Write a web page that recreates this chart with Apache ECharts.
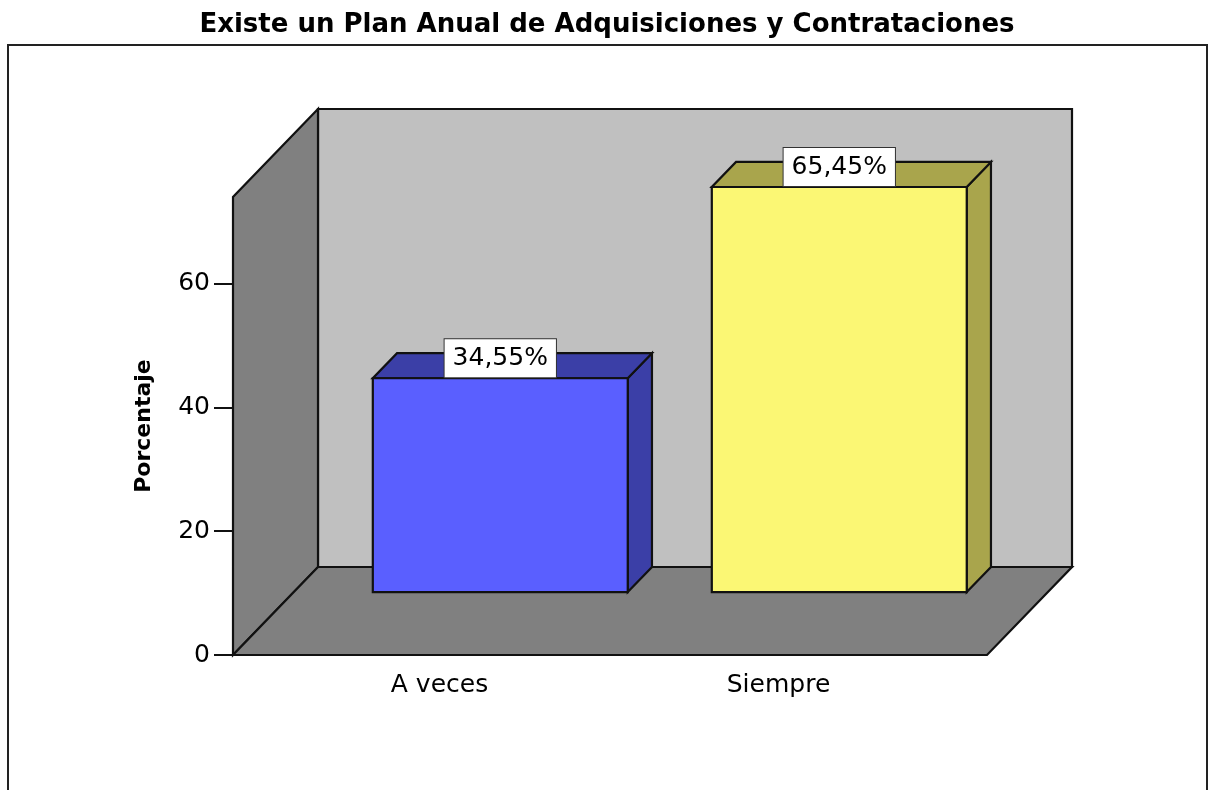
<!DOCTYPE html>
<html>
<head>
<meta charset="utf-8">
<title>Existe un Plan Anual de Adquisiciones y Contrataciones</title>
<script src="https://cdn.jsdelivr.net/npm/echarts@6/dist/echarts.min.js"></script>
<style>
  html, body { margin: 0; padding: 0; background: #fff; }
  #chart { width: 1214px; height: 790px; }
</style>
</head>
<body>
<div id="chart"></div>
<script>
// datos del grafico
const categories = ["A veces", "Siempre"];
const percentages = [34.55, 65.45];
const yTicks = [0, 20, 40, 60];
const wallTop = 74; // altura de las paredes (escala del eje)

const chart = echarts.init(document.getElementById("chart"));

// desplazamiento en profundidad (px) de la caja 3D
const DEPTH = [85, -88];
const BAR_FRONT = 0.715; // profundidad donde empieza la barra
const BAR_BACK = 1.0;
const PAD_L = 37, PAD_R = 39; // el suelo sobresale del grid
const faces = [
  { front: "#5a5fff", dark: "#3b3fa7" },
  { front: "#fbf774", dark: "#a9a54c" },
];
const edge = { stroke: "#111", lineWidth: 2.2 };

const pct = (v) => v.toFixed(2).replace(".", ",") + "%";

const renderWalls = (params, api) => {
  const cs = params.coordSys;
  const base = api.coord([0, 0])[1];
  const top = api.coord([0, api.value(1)])[1];
  const xL = cs.x - PAD_L;
  const xR = cs.x + cs.width + PAD_R;
  const [dx, dy] = DEPTH;
  return {
    type: "group",
    children: [
      {
        type: "polygon",
        shape: { points: [[xL + dx, top + dy], [xR + dx, top + dy], [xR + dx, base + dy], [xL + dx, base + dy]] },
        style: { fill: "#c0c0c0", ...edge },
      },
      {
        type: "polygon",
        shape: { points: [[xL, base], [xL, top], [xL + dx, top + dy], [xL + dx, base + dy]] },
        style: { fill: "#808080", ...edge },
      },
      {
        type: "polygon",
        shape: { points: [[xL, base], [xR, base], [xR + dx, base + dy], [xL + dx, base + dy]] },
        style: { fill: "#808080", ...edge },
      },
    ],
  };
};

const renderBar = (params, api) => {
  const idx = api.value(0);
  const val = api.value(1);
  const c = api.coord([idx, 0]);
  const t = api.coord([idx, val]);
  const bw = api.size([1, 0])[0] * 0.752;
  const fx = DEPTH[0] * BAR_FRONT, fy = DEPTH[1] * BAR_FRONT;
  const ddx = DEPTH[0] * (BAR_BACK - BAR_FRONT), ddy = DEPTH[1] * (BAR_BACK - BAR_FRONT);
  const x0 = c[0] - bw / 2 + fx, x1 = x0 + bw;
  const yb = c[1] + fy, yt = t[1] + fy;
  const col = faces[params.dataIndex % faces.length];
  return {
    type: "group",
    children: [
      {
        type: "polygon",
        shape: { points: [[x1, yt], [x1 + ddx, yt + ddy], [x1 + ddx, yb + ddy], [x1, yb]] },
        style: { fill: col.dark, ...edge },
      },
      {
        type: "polygon",
        shape: { points: [[x0, yt], [x1, yt], [x1 + ddx, yt + ddy], [x0 + ddx, yt + ddy]] },
        style: { fill: col.dark, ...edge },
      },
      {
        type: "rect",
        shape: { x: x0, y: yt, width: bw, height: yb - yt },
        style: { fill: col.front, ...edge },
      },
      {
        type: "text",
        style: {
          text: pct(val),
          x: x0 + bw / 2,
          y: yt - 1,
          align: "center",
          verticalAlign: "bottom",
          fontFamily: "DejaVu Sans",
          fontSize: 25,
          fill: "#000",
          backgroundColor: "#fff",
          borderColor: "#333",
          borderWidth: 1,
          padding: [7, 8, 6, 8],
        },
      },
    ],
  };
};

const option = {
  animation: false,
  backgroundColor: "#fff",
  title: {
    text: "Existe un Plan Anual de Adquisiciones y Contrataciones",
    left: "center",
    top: 7,
    textStyle: { fontFamily: "DejaVu Sans", fontWeight: "bold", fontSize: 26, color: "#000" },
  },
  graphic: [
    {
      type: "rect",
      shape: { x: 8, y: 45, width: 1199, height: 770 },
      style: { fill: "none", stroke: "#222", lineWidth: 2 },
      z: -1,
    },
  ],
  grid: { left: 270, right: 266, top: 197, bottom: 135 },
  xAxis: {
    type: "category",
    data: categories,
    axisLine: { show: false },
    axisTick: { alignWithLabel: true, length: 11, lineStyle: { color: "#111", width: 2 } },
    axisLabel: { margin: 18, fontFamily: "DejaVu Sans", fontSize: 25, color: "#000" },
    splitLine: { show: false },
  },
  yAxis: {
    type: "value",
    min: 0,
    max: wallTop,
    offset: 37,
    name: "Porcentaje",
    nameLocation: "middle",
    nameGap: 78,
    nameTextStyle: { fontFamily: "DejaVu Sans", fontWeight: "bold", fontSize: 22, color: "#000" },
    axisLine: { show: false },
    axisTick: { show: true, length: 19, customValues: yTicks, lineStyle: { color: "#111", width: 2 } },
    axisLabel: { customValues: yTicks, margin: 23, fontFamily: "DejaVu Sans", fontSize: 25, color: "#000" },
    splitLine: { show: false },
  },
  series: [
    {
      type: "custom",
      name: "paredes",
      silent: true,
      clip: false,
      renderItem: renderWalls,
      data: [[0, wallTop]],
      z: 1,
    },
    {
      type: "custom",
      name: "Porcentaje",
      silent: true,
      clip: false,
      renderItem: renderBar,
      data: percentages.map((v, i) => [i, v]),
      z: 2,
    },
  ],
};

chart.setOption(option);
window.addEventListener("resize", () => chart.resize());
</script>
</body>
</html>
